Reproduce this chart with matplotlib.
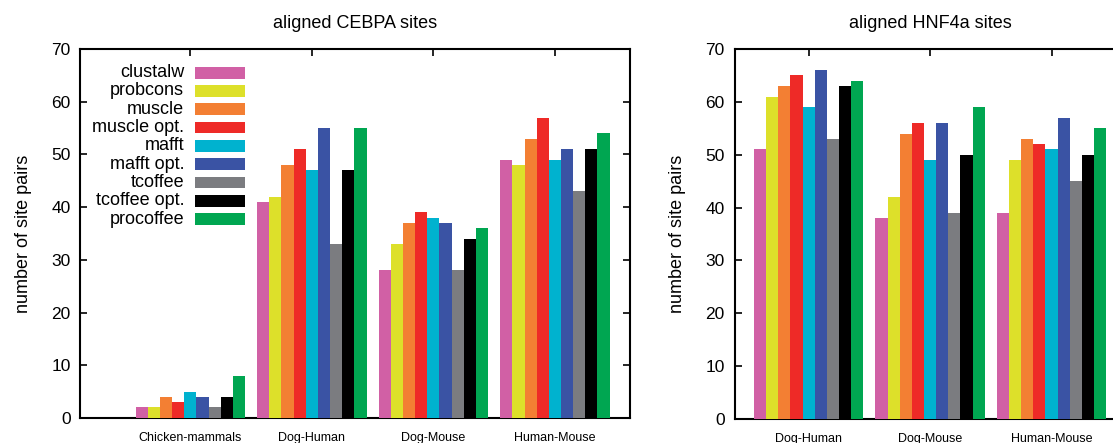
import numpy as np
import matplotlib
matplotlib.use("Agg")
import matplotlib.pyplot as plt
from matplotlib.patches import Rectangle

plt.rcParams["font.family"] = ["Liberation Sans", "DejaVu Sans"]

################################################################################
# Data
################################################################################
methods = ["clustalw", "probcons", "muscle", "muscle opt.", "mafft",
           "mafft opt.", "tcoffee", "tcoffee opt.", "procoffee"]
colors = ["#D160A5", "#DDE02A", "#F37F33", "#EE2A27", "#00B2CF",
          "#3A53A4", "#7B7C80", "#000000", "#00A651"]

cebpa_pairs = ["Chicken-mammals", "Dog-Human", "Dog-Mouse", "Human-Mouse"]
cebpa_counts = [
    [2, 41, 28, 49],   # clustalw
    [2, 42, 33, 48],   # probcons
    [4, 48, 37, 53],   # muscle
    [3, 51, 39, 57],   # muscle opt.
    [5, 47, 38, 49],   # mafft
    [4, 55, 37, 51],   # mafft opt.
    [2, 33, 28, 43],   # tcoffee
    [4, 47, 34, 51],   # tcoffee opt.
    [8, 55, 36, 54],   # procoffee
]

hnf4a_pairs = ["Dog-Human", "Dog-Mouse", "Human-Mouse"]
hnf4a_counts = [
    [51, 38, 39],
    [61, 42, 49],
    [63, 54, 53],
    [65, 56, 52],
    [59, 49, 51],
    [66, 56, 57],
    [53, 39, 45],
    [63, 50, 50],
    [64, 59, 55],
]

yticks = [0, 10, 20, 30, 40, 50, 60, 70]
bar_w = 0.1


def histogram(ax, pairs, counts, title):
    x = np.arange(len(pairs))
    for j, (vals, c) in enumerate(zip(counts, colors)):
        ax.bar(x + (j - 4) * bar_w, vals, width=bar_w, color=c,
               edgecolor="none", label=methods[j], zorder=3)
    ax.set_ylim(0, 70)
    ax.set_yticks(yticks)
    ax.set_xticks(x)
    ax.set_xticklabels(pairs, fontsize=9)
    ax.tick_params(axis="y", direction="in", length=5, width=1.2,
                   right=True, labelsize=12.5, pad=7)
    ax.tick_params(axis="x", direction="in", length=5, width=1.2,
                   top=True, bottom=False, pad=10)
    for s in ax.spines.values():
        s.set_linewidth(1.5)
    ax.set_title(title, fontsize=13, pad=15)
    ax.set_ylabel("number of site pairs", fontsize=13, labelpad=14)


fig = plt.figure(figsize=(11.13, 4.43), dpi=100)

ax1 = fig.add_axes([0.0722, 0.0564, 0.4935, 0.8330])
histogram(ax1, cebpa_pairs, cebpa_counts, "aligned CEBPA sites")
ax1.set_xlim(-0.905, 3.615)

ax2 = fig.add_axes([0.6600, 0.0542, 0.3513, 0.8352])
histogram(ax2, hnf4a_pairs, hnf4a_counts, "aligned HNF4a sites")
ax2.set_xlim(-0.61, 2.61)

################################################################################
# Legend (gnuplot style: right aligned text, swatch on the right)
################################################################################
y0, dy = 0.9358, 0.0496
for j, (m, c) in enumerate(zip(methods, colors)):
    yy = y0 - j * dy
    ax1.text(0.1887, yy, m, transform=ax1.transAxes, ha="right",
             va="center", fontsize=13)
    ax1.add_patch(Rectangle((0.2095, yy - 0.0158), 0.091, 0.0316,
                            transform=ax1.transAxes, facecolor=c,
                            edgecolor="none", zorder=4))

plt.savefig("out.png", dpi=100)
plt.close()
